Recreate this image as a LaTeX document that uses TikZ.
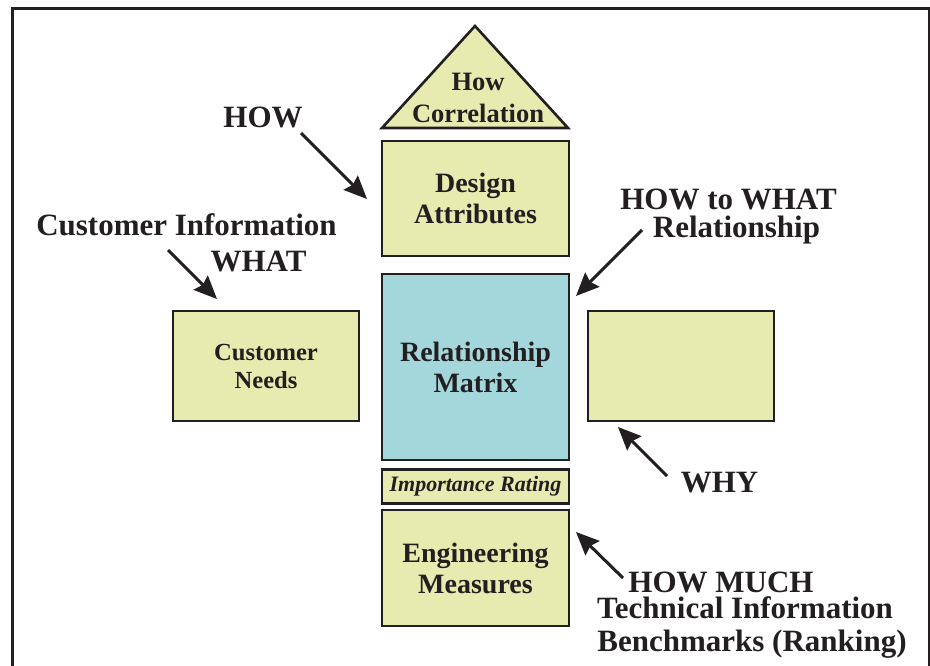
\documentclass[tikz,border=0pt]{standalone}
\usepackage{fontspec}
\setmainfont{Liberation Serif}
\usetikzlibrary{arrows.meta}
\definecolor{ink}{HTML}{231F20}
\definecolor{boxyellow}{HTML}{E8EBB0}
\definecolor{boxblue}{HTML}{A3D7DC}
\begin{document}
\begin{tikzpicture}[x=1pt,y=-1pt,
  box/.style={draw=ink, line width=2.6pt, rectangle, inner sep=0pt, text=ink, align=center,
    font=\bfseries\fontsize{28}{31}\selectfont},
  ybox/.style={box, fill=boxyellow},
  bbox/.style={box, fill=boxblue},
  biglabel/.style={inner sep=0pt, text=ink, font=\bfseries\fontsize{31}{33}\selectfont, anchor=base},
  pointer/.style={draw=ink, line width=3pt, -{Stealth[length=23pt,width=20pt,inset=3pt]}},
  frameline/.style={draw=ink, line width=3pt}
]
\useasboundingbox (0,0) rectangle (930,666);
\fill[white] (0,0) rectangle (930,666);

% frame
\coordinate (fbl) at (12,666);
\coordinate (ftl) at (12,9);
\coordinate (ftr) at (929,9);
\coordinate (fbr) at (929,666);
\draw[frameline] (fbl) -- (ftl) -- (ftr) -- (fbr);

% roof triangle
\coordinate (tl) at (382,128);
\coordinate (tapex) at (475,26);
\coordinate (tr) at (568,128);
\draw[draw=ink, line width=2.6pt, fill=boxyellow, line join=miter] (tl) -- (tapex) -- (tr) -- cycle;
\node[inner sep=0pt, text=ink, align=center, font=\bfseries\fontsize{26.5}{32}\selectfont] (corr) at (478,98.3) {How\\Correlation};

% boxes
\node[ybox, minimum width=187pt, minimum height=115pt] (design) at (475.5,198.5) {Design\\Attributes};
\node[bbox, minimum width=187pt, minimum height=186pt] (matrix) at (475.5,367) {Relationship\\Matrix};
\node[ybox, minimum width=187pt, minimum height=34pt, font=\bfseries\itshape\fontsize{22}{24}\selectfont] (rating) at (475.5,486.5) {Importance Rating};
\node[ybox, minimum width=187pt, minimum height=116pt] (eng) at (475.5,568) {Engineering\\Measures};
\node[ybox, minimum width=186pt, minimum height=110pt, font=\bfseries\fontsize{24.6}{28}\selectfont] (needs) at (266,366) {Customer\\Needs};
\node[ybox, minimum width=186pt, minimum height=110pt] (why) at (681,366) {};

% labels
\node[biglabel] (lhow) at (263,128) {HOW};
\node[biglabel] (lcust) at (186.5,236) {Customer Information};
\node[biglabel] (lwhat) at (258.5,271) {WHAT};
\node[biglabel] (lhtw) at (728.5,210) {HOW to WHAT};
\node[biglabel] (lrel) at (736.5,237) {Relationship};
\node[biglabel] (lwhy) at (719.5,492) {WHY};
\node[biglabel] (lmuch) at (721,592) {HOW MUCH};
\node[biglabel] (ltech) at (745,618) {Technical Information};
\node[biglabel] (lbench) at (752,651) {Benchmarks (Ranking)};

% arrows
\coordinate (a1s) at (301,133);  \coordinate (a1e) at (367,199);
\coordinate (a2s) at (168,250);  \coordinate (a2e) at (217,299);
\coordinate (a3s) at (642,230);  \coordinate (a3e) at (576,296);
\coordinate (a4s) at (667,476);  \coordinate (a4e) at (618,427);
\coordinate (a5s) at (623,578);  \coordinate (a5e) at (576,532);
\draw[pointer] (a1s) -- (a1e);
\draw[pointer] (a2s) -- (a2e);
\draw[pointer] (a3s) -- (a3e);
\draw[pointer] (a4s) -- (a4e);
\draw[pointer] (a5s) -- (a5e);
\end{tikzpicture}
\end{document}
